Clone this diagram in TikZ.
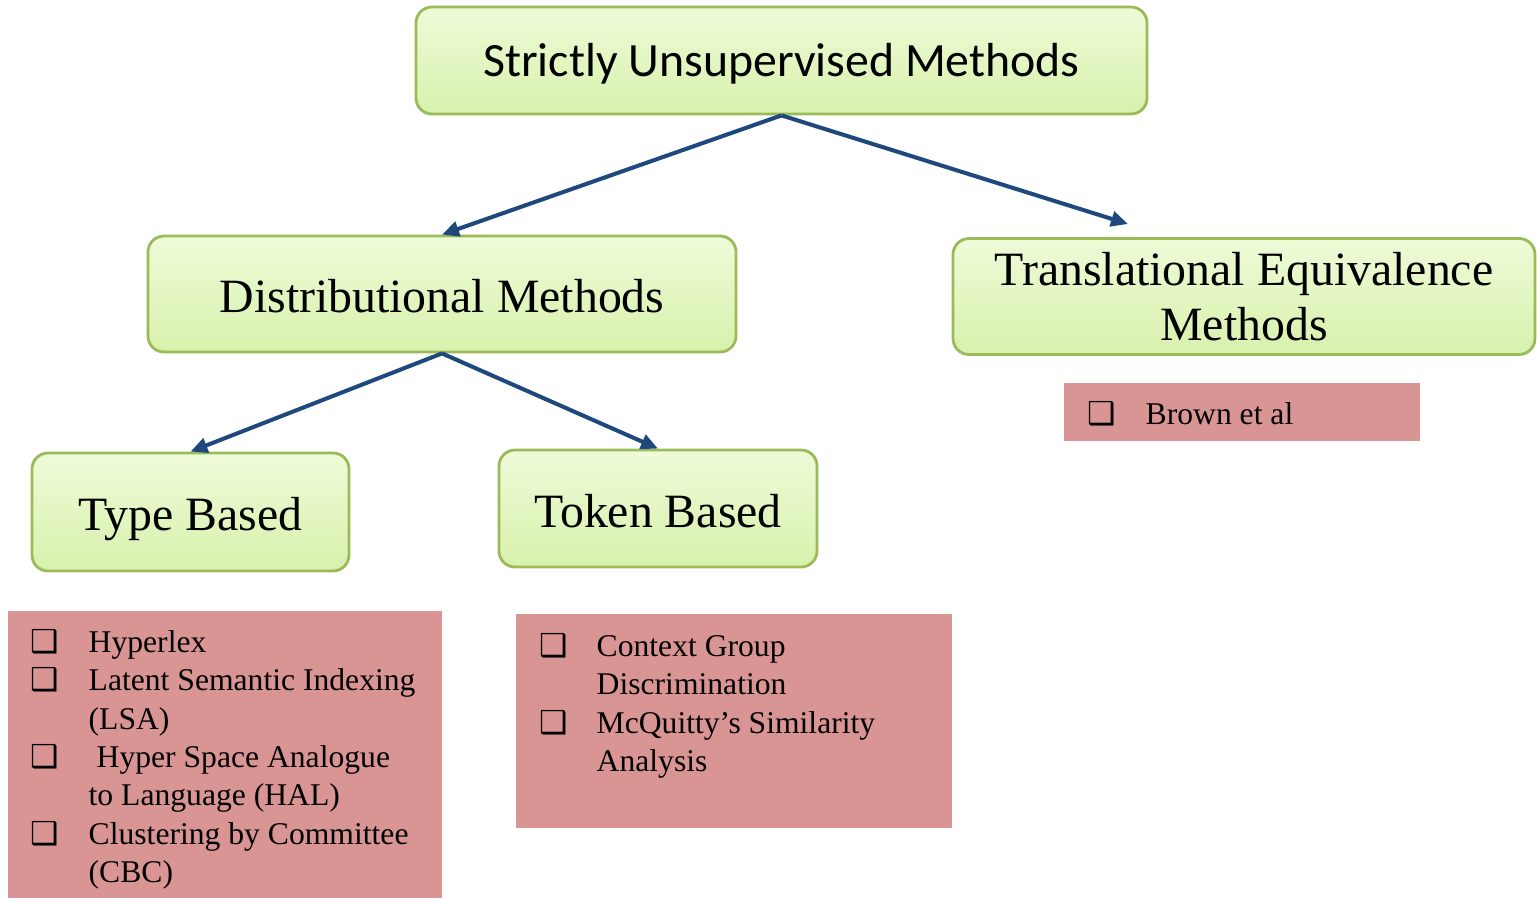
\documentclass[tikz,border=0pt]{standalone}
\usepackage{fontspec}
\setmainfont{Liberation Serif}
\newfontfamily\calfont{Carlito}
\newfontfamily\dingfont{DejaVu Sans}
\usetikzlibrary{arrows.meta}
\definecolor{boxline}{RGB}{155,187,89}
\definecolor{boxtop}{RGB}{238,251,216}
\definecolor{boxbot}{RGB}{216,241,172}
\definecolor{listpink}{RGB}{217,149,148}
\definecolor{arrowblue}{RGB}{31,73,125}
\def\sq{{\dingfont\bfseries ❑}}

\begin{document}
\begin{tikzpicture}[
    method/.style={draw=boxline, line width=0.8pt, rounded corners=0.16cm,
        top color=boxtop, bottom color=boxbot, align=center, inner sep=0pt,
        font=\fontsize{13.6}{15.6}\selectfont},
    listtext/.style={anchor=north west, inner sep=0pt, align=left,
        font=\fontsize{9}{10.9}\selectfont},
    link/.style={draw=arrowblue, line width=1.15pt,
        -{Triangle[length=0.17cm,width=0.15cm]}}
  ]
  \useasboundingbox (0,0) rectangle (15.37,-8.98);

  %%%%% method boxes %%%%%
  \node[method, minimum width=7.31cm, minimum height=1.07cm,
        text height=11.8pt, text depth=2.9pt] (strict) at (7.815,-0.605)
    {\calfont Strictly Unsupervised Methods};
  \node[method, minimum width=5.88cm, minimum height=1.16cm,
        text height=10.4pt, text depth=0pt] (distrib) at (4.42,-2.94)
    {Distributional Methods};
  \node[method, minimum width=5.82cm, minimum height=1.16cm] (transl) at (12.44,-2.965)
    {Translational Equivalence\\Methods};
  \node[method, minimum width=3.17cm, minimum height=1.18cm,
        text height=13.3pt, text depth=2.95pt] (typeb) at (1.905,-5.12)
    {Type Based};
  \node[method, minimum width=3.18cm, minimum height=1.17cm,
        text height=11pt, text depth=0pt] (tokenb) at (6.58,-5.085)
    {Token Based};

  %%%%% arrows %%%%%
  \coordinate (translend) at (11.28,-2.24);
  \draw[link] (strict.south) -- (distrib.north);
  \draw[link] (strict.south) -- (translend);
  \draw[link] (distrib.south) -- (typeb.north);
  \draw[link] (distrib.south) -- (tokenb.north);

  %%%%% lists %%%%%
  \fill[listpink] (0.08,-6.11) rectangle (4.42,-8.98);
  \node[listtext] (typelist) at (0.30,-6.25) {%
    \begin{tabular}{@{}p{0.58cm}@{}l@{}}
      \sq & Hyperlex\\
      \sq & Latent Semantic Indexing\\
          & (LSA)\\
      \sq & \hspace{0.08cm}Hyper Space Analogue\\
          & to Language (HAL)\\
      \sq & Clustering by Committee\\
          & (CBC)
    \end{tabular}};

  \fill[listpink] (5.16,-6.14) rectangle (9.52,-8.28);
  \node[listtext] (tokenlist) at (5.39,-6.29) {%
    \begin{tabular}{@{}p{0.57cm}@{}l@{}}
      \sq & Context Group\\
          & Discrimination\\
      \sq & McQuitty’s Similarity\\
          & Analysis
    \end{tabular}};

  \fill[listpink] (10.64,-3.83) rectangle (14.20,-4.41);
  \node[listtext] (translist) at (10.87,-3.97) {%
    \begin{tabular}{@{}p{0.58cm}@{}l@{}}
      \sq & Brown et al
    \end{tabular}};
\end{tikzpicture}
\end{document}
